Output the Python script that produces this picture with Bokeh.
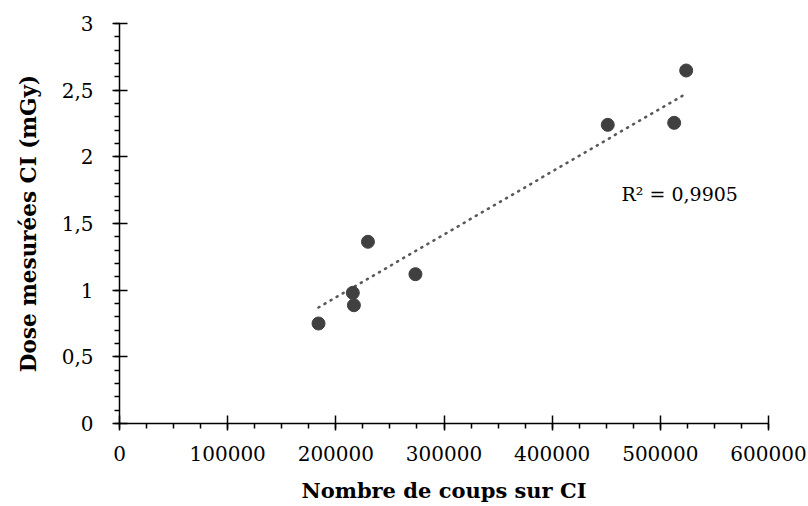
from bokeh.plotting import figure
from bokeh.models import Range1d, Label, Title, SingleIntervalTicker, CustomJSTickFormatter
from bokeh.embed import file_html
from bokeh.resources import INLINE

# Data
coups = [184000, 215700, 216700, 229700, 273600, 451400, 512800, 523900]
dose = [0.75, 0.98, 0.887, 1.363, 1.12, 2.24, 2.255, 2.6475]

# Linear trend line endpoints
trend_x = [184000, 524000]
trend_y = [0.87, 2.475]

r2_text = "R² = 0,9905"
x_title = "Nombre de coups sur CI"
y_title = "Dose mesurées CI (mGy)"

FONT = "DejaVu Serif"

p = figure(width=808, height=506, output_backend="svg", toolbar_location=None,
           x_range=Range1d(0, 600000), y_range=Range1d(0, 3),
           min_border_left=119, min_border_right=40, min_border_top=23, min_border_bottom=83)
p.outline_line_color = None
p.grid.visible = False
p.background_fill_color = "white"
p.border_fill_color = "white"

# trend line
p.line(trend_x, trend_y, line_color="#595959", line_width=2.6, line_dash="1 6", line_cap="round")
# points
p.scatter(coups, dose, size=13, fill_color="#404040", line_color="#404040")

xa = p.xaxis[0]
xa.ticker = SingleIntervalTicker(interval=100000, num_minor_ticks=4)
xa.formatter = CustomJSTickFormatter(code="return tick.toFixed(0);")
ya = p.yaxis[0]
ya.ticker = SingleIntervalTicker(interval=0.5, num_minor_ticks=5)
ya.formatter = CustomJSTickFormatter(code="return tick.toString().replace('.', ',');")

for ax in (xa, ya):
    ax.axis_line_color = "black"
    ax.axis_line_width = 1.5
    ax.major_tick_line_color = "black"
    ax.major_tick_line_width = 1.5
    ax.minor_tick_line_color = "black"
    ax.minor_tick_line_width = 1.5
    ax.major_tick_in = 8
    ax.major_tick_out = 7
    ax.minor_tick_in = 0
    ax.minor_tick_out = 5
    ax.major_label_text_font = FONT
    ax.major_label_text_font_size = "20px"
    ax.major_label_text_color = "black"

xa.major_label_standoff = 15
ya.major_label_standoff = 19

xa.axis_label = x_title
xa.axis_label_text_font = FONT
xa.axis_label_text_font_size = "21px"
xa.axis_label_text_font_style = "bold"
xa.axis_label_text_color = "black"
xa.axis_label_standoff = 14

p.add_layout(Title(text=y_title, align="center", offset=-33, standoff=31, vertical_align="top",
                   text_font=FONT, text_font_size="21.5px", text_font_style="bold",
                   text_color="black"), "left")

p.add_layout(Label(x=464100, y=1.725, text=r2_text, text_align="left", text_baseline="middle",
                   text_font=FONT, text_font_size="19px", text_color="black"))

open("out.html", "w").write(file_html(p, INLINE))
